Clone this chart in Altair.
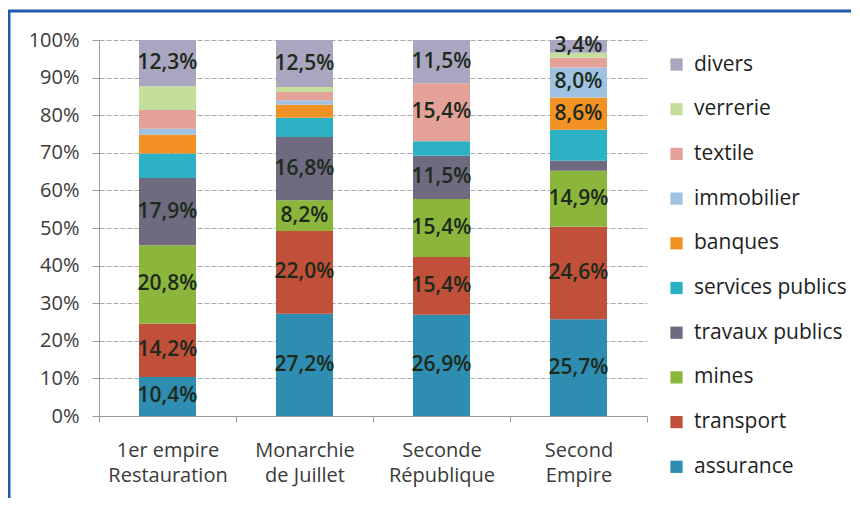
import altair as alt
import pandas as pd

categories = ["1er empire\nRestauration", "Monarchie\nde Juillet", "Seconde\nRépublique", "Second\nEmpire"]

# stacking order: bottom -> top
series = ["assurance", "transport", "mines", "travaux publics", "services publics",
          "banques", "immobilier", "textile", "verrerie", "divers"]

assurance = [10.4, 27.2, 26.9, 25.7]
transport = [14.2, 22.0, 15.4, 24.6]
mines = [20.8, 8.2, 15.4, 14.9]
travaux_publics = [17.9, 16.8, 11.5, 2.7]
services_publics = [6.5, 5.1, 3.9, 8.2]
banques = [5.0, 3.5, 0.0, 8.6]
immobilier = [1.6, 1.2, 0.0, 8.0]
textile = [5.0, 2.2, 15.4, 2.6]
verrerie = [6.3, 1.3, 0.0, 1.3]
divers = [12.3, 12.5, 11.5, 3.4]

values = [assurance, transport, mines, travaux_publics, services_publics,
          banques, immobilier, textile, verrerie, divers]

# which segments carry a visible value label
label_shown = [
    [1, 1, 1, 1],
    [1, 1, 1, 1],
    [1, 1, 1, 1],
    [1, 1, 1, 0],
    [0, 0, 0, 0],
    [0, 0, 0, 1],
    [0, 0, 0, 1],
    [0, 0, 1, 0],
    [0, 0, 0, 0],
    [1, 1, 1, 1],
]

y_ticks = [0, 10, 20, 30, 40, 50, 60, 70, 80, 90, 100]

colors = ["#2e8db0", "#c0503a", "#8cb53c", "#6f6a80", "#2cb2c4",
          "#f39224", "#9fc2e2", "#e3a198", "#c6de9c", "#aaa6bf"]

rows = []
for si, s in enumerate(series):
    for ci, c in enumerate(categories):
        v = values[si][ci]
        rows.append({
            "cat": c,
            "serie": s,
            "ord": si,
            "value": v,
            "label": (f"{v:.1f}".replace(".", ",") + "%") if label_shown[si][ci] else "",
        })
df = pd.DataFrame(rows)

FONT = "Open Sans"
legend_order = list(reversed(series))
legend_colors = list(reversed(colors))

yscale = alt.Scale(domain=[0, 100], nice=False)
xscale = alt.Scale(paddingInner=0, paddingOuter=0)

xaxis = alt.Axis(labelExpr="split(datum.label, '\\n')", labelAngle=0,
                 labelFontSize=20, labelColor="#3a3a3a", labelFont=FONT,
                 labelLineHeight=25, labelPadding=18, tickSize=6,
                 tickBand="extent", domainColor="#9a9a9a", tickColor="#9a9a9a",
                 labelBaseline="top")
yaxis = alt.Axis(values=y_ticks, labelExpr="datum.value + '%'",
                 labelOverlap=False, labelFontSize=20, labelColor="#3a3a3a",
                 labelFont=FONT, tickSize=7, labelPadding=13,
                 domainColor="#9a9a9a", tickColor="#9a9a9a",
                 gridColor="#aaaaaa", gridDash=[5, 2], grid=True)

base = alt.Chart(df).transform_stack(
    stack="value", groupby=["cat"], as_=["v0", "v1"],
    sort=[alt.SortField("ord", order="ascending")]
).transform_calculate(mid="(datum.v0 + datum.v1) / 2")

bars = base.mark_bar(size=57).encode(
    x=alt.X("cat:N", sort=categories, title=None, scale=xscale, axis=xaxis),
    y=alt.Y("v0:Q", title=None, scale=yscale, axis=yaxis),
    y2="v1:Q",
    color=alt.Color("serie:N",
                    scale=alt.Scale(domain=legend_order, range=legend_colors),
                    legend=alt.Legend(title=None, orient="none", legendX=567, legendY=14,
                                      symbolType="square", symbolSize=150,
                                      symbolStrokeWidth=0, labelFontSize=21,
                                      labelFont=FONT, labelColor="#1e1e1e",
                                      rowPadding=22.7, labelOffset=7)),
)

text = base.mark_text(fontSize=21, font=FONT, fontWeight=600, color="#1c2a1c",
                      baseline="middle").encode(
    x=alt.X("cat:N", sort=categories, title=None, scale=xscale, axis=xaxis),
    y=alt.Y("mid:Q", title=None, scale=yscale, axis=yaxis),
    text="label:N",
)

frame_df = pd.DataFrame({"k": [0]})
left_border = alt.Chart(frame_df).mark_rule(color="#1f5ba8", strokeWidth=3).encode(
    x=alt.value(-90), y=alt.value(-29), y2=alt.value(480))
top_border = alt.Chart(frame_df).mark_rule(color="#1f5ba8", strokeWidth=3).encode(
    x=alt.value(-91), x2=alt.value(770), y=alt.value(-29))

chart = alt.layer(bars, text, left_border, top_border).properties(
    width=548, height=376,
    padding={"left": 91, "top": 32, "right": 204, "bottom": 82},
    autosize=alt.AutoSizeParams(type="none"),
).configure_view(strokeOpacity=0)

chart.save("out.html", embed_options={"renderer": "svg", "actions": False})
